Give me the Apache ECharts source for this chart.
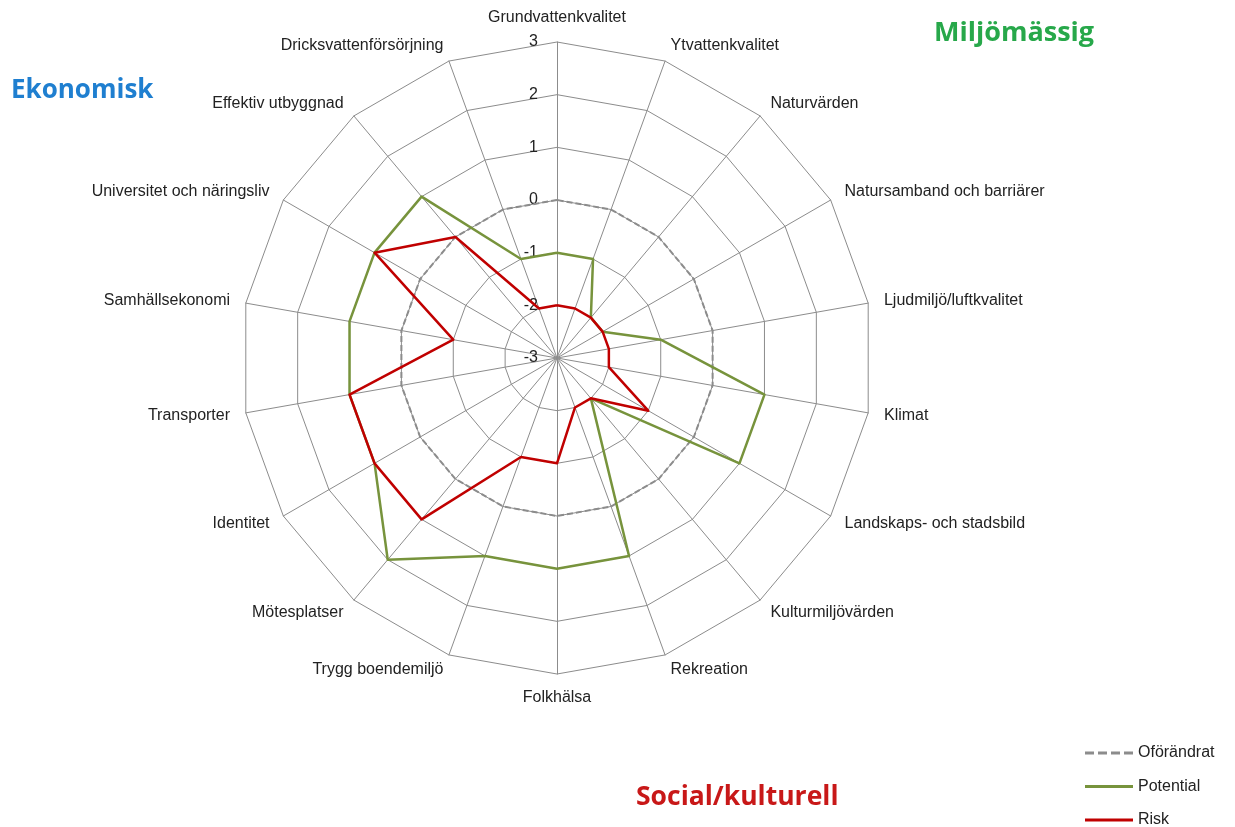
<!DOCTYPE html>
<html>
<head>
    <meta charset="UTF-8">
    <title>Radar</title>
    <script src="https://cdn.jsdelivr.net/npm/echarts@6/dist/echarts.min.js"></script>
</head>
<body style="margin: 0;overflow: hidden;background: #fff;">
<div id="chart" style="width: 1235px;height: 827px;"></div>
<script type="text/javascript">
    // kategorier, medurs fran toppen
    var categories = [
        'Grundvattenkvalitet', 'Ytvattenkvalitet', 'Naturvärden', 'Natursamband och barriärer',
        'Ljudmiljö/luftkvalitet', 'Klimat', 'Landskaps- och stadsbild', 'Kulturmiljövärden',
        'Rekreation', 'Folkhälsa', 'Trygg boendemiljö', 'Mötesplatser', 'Identitet',
        'Transporter', 'Samhällsekonomi', 'Universitet och näringsliv', 'Effektiv utbyggnad',
        'Dricksvattenförsörjning'
    ];
    var oforandrat = [0, 0, 0, 0, 0, 0, 0, 0, 0, 0, 0, 0, 0, 0, 0, 0, 0, 0];
    var potential = [-1, -1, -2, -2, -1, 1, 1, -2, 1, 1, 1, 2, 1, 1, 1, 1, 1, -1];
    var risk = [-2, -2, -2, -2, -2, -2, -1, -2, -2, -1, -1, 1, 1, 1, -1, 1, 0, -2];
    var seriesNames = ['Oförändrat', 'Potential', 'Risk'];

    // echarts ritar moturs, sa vand ordningen efter forsta axeln
    function cw(arr) {
        return [arr[0]].concat(arr.slice(1).reverse());
    }

    var indicators = cw(categories).map(function (name, i) {
        var ind = {name: name, min: -3, max: 3};
        if (i === 0) {
            ind.axisLabel = {show: true};
        }
        return ind;
    });

    var font = 'Liberation Sans';
    var dashIcon = 'path://M0,0h9v3h-9z M13,0h9v3h-9z M26,0h9v3h-9z M39,0h9v3h-9z';
    var lineIcon = 'path://M0,0h48v3h-48z';

    var chart = echarts.init(document.getElementById('chart'));
    var option = {
        backgroundColor: '#fff',
        animation: false,
        title: [
            {text: 'Ekonomisk', left: 6, top: 73,
                textStyle: {color: '#1f7fd0', fontSize: 26, fontWeight: 'bold', fontFamily: 'Open Sans'}},
            {text: 'Miljömässig', left: 929, top: 15,
                textStyle: {color: '#27a84a', fontSize: 27, fontWeight: 'bold', fontFamily: 'Open Sans'}},
            {text: 'Social/kulturell', left: 631, top: 779,
                textStyle: {color: '#c81818', fontSize: 26.5, fontWeight: 'bold', fontFamily: 'Open Sans'}}
        ],
        legend: {
            orient: 'vertical',
            left: 1085,
            top: 745,
            height: 120,
            padding: 0,
            itemWidth: 48,
            itemHeight: 3,
            itemGap: 17.5,
            textStyle: {color: '#222', fontSize: 16, fontFamily: font},
            data: [
                {name: 'Oförändrat', icon: dashIcon},
                {name: 'Potential', icon: lineIcon},
                {name: 'Risk', icon: lineIcon}
            ]
        },
        radar: {
            center: [557, 358],
            radius: 316,
            splitNumber: 6,
            shape: 'polygon',
            nameGap: 16,
            axisName: {color: '#222', fontSize: 16, fontFamily: font},
            axisLine: {lineStyle: {color: '#8c8c8c', width: 1}},
            splitLine: {lineStyle: {color: '#8c8c8c', width: 1}},
            splitArea: {show: false},
            axisTick: {show: false},
            axisLabel: {show: false, color: '#222', fontSize: 16, fontFamily: font, margin: 19},
            indicator: indicators
        },
        series: [{
            type: 'radar',
            symbol: 'none',
            data: [
                {name: seriesNames[0], value: cw(oforandrat),
                    lineStyle: {color: '#8c8c8c', width: 2, type: [6, 3]}, itemStyle: {color: '#8c8c8c'}},
                {name: seriesNames[1], value: cw(potential),
                    lineStyle: {color: '#77933c', width: 2.5}, itemStyle: {color: '#77933c'}},
                {name: seriesNames[2], value: cw(risk),
                    lineStyle: {color: '#c00000', width: 2.5}, itemStyle: {color: '#c00000'}}
            ]
        }]
    };
    chart.setOption(option);
</script>
</body>
</html>
